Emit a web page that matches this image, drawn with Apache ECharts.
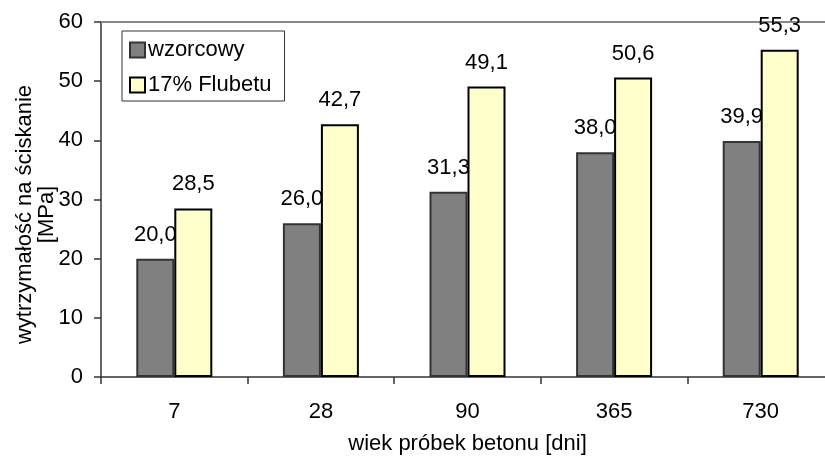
<!DOCTYPE html>
<html>
<head>
<meta charset="utf-8">
<script src="https://cdn.jsdelivr.net/npm/echarts@6/dist/echarts.min.js"></script>
<style>
  html, body { margin: 0; padding: 0; background: #fff; }
  #chart { width: 825px; height: 456px; }
</style>
</head>
<body>
<div id="chart"></div>
<script>
// Compressive strength of concrete samples by age
const categories = ['7', '28', '90', '365', '730'];
const wzorcowy = [20.0, 26.0, 31.3, 38.0, 39.9];
const flubet17 = [28.5, 42.7, 49.1, 50.6, 55.3];
const seriesNames = ['wzorcowy', '17% Flubetu'];

const FONT = "'Liberation Sans', Arial, Helvetica, sans-serif";
const FS = 22;
const fmt = v => v.toFixed(1).replace('.', ',');

const chart = echarts.init(document.getElementById('chart'), null, { renderer: 'canvas' });

const valueLabel = {
  show: true,
  position: 'top',
  distance: 13,
  fontFamily: FONT,
  fontSize: FS,
  color: '#000',
  formatter: p => fmt(p.value)
};

chart.setOption({
  animation: false,
  backgroundColor: '#ffffff',
  textStyle: { fontFamily: FONT, color: '#000' },
  // plot area runs slightly past the right edge of the canvas
  grid: { left: 101, top: 22, width: 733, bottom: 79, containLabel: false, outerBoundsMode: 'none' },
  legend: {
    orient: 'vertical',
    left: 122,
    top: 31,
    padding: [8, 13, 5, 7],
    itemWidth: 15,
    itemHeight: 15,
    itemGap: 13,
    borderColor: '#333',
    borderWidth: 1,
    backgroundColor: '#fff',
    icon: 'rect',
    textStyle: { fontFamily: FONT, fontSize: FS, lineHeight: 22, color: '#000', padding: [0, 0, 0, -2] },
    data: seriesNames
  },
  xAxis: [
    {
      type: 'category',
      data: categories,
      boundaryGap: true,
      name: 'wiek próbek betonu [dni]',
      nameLocation: 'middle',
      nameGap: 56,
      nameMoveOverlap: false,
      nameTextStyle: { fontFamily: FONT, fontSize: FS, color: '#000' },
      axisLine: { lineStyle: { color: '#333', width: 1.5 } },
      axisTick: { show: true, length: 7, alignWithLabel: false, lineStyle: { color: '#333', width: 1.5 } },
      axisLabel: { margin: 24, fontFamily: FONT, fontSize: FS, color: '#000' },
      splitLine: { show: false }
    },
    {
      // upper frame line of the plot area
      type: 'category',
      data: categories,
      position: 'top',
      axisLine: { show: true, lineStyle: { color: '#888', width: 2 } },
      axisTick: { show: false },
      axisLabel: { show: false },
      splitLine: { show: false }
    }
  ],
  yAxis: {
    type: 'value',
    min: 0,
    max: 60,
    interval: 10,
    name: 'wytrzymałość na ściskanie\n[MPa]',
    nameLocation: 'middle',
    nameGap: 43,
    nameMoveOverlap: false,
    nameTextStyle: { fontFamily: FONT, fontSize: FS, lineHeight: 22, color: '#000', align: 'center', padding: [0, 30, 0, 0] },
    axisLine: { show: true, lineStyle: { color: '#333', width: 1.5 } },
    axisTick: { show: true, length: 7, lineStyle: { color: '#333', width: 1.5 } },
    axisLabel: { margin: 18, fontFamily: FONT, fontSize: FS, color: '#000' },
    splitLine: { show: false }
  },
  series: [
    {
      name: seriesNames[0],
      type: 'bar',
      data: wzorcowy,
      barWidth: 38,
      barGap: '0%',
      z: 2,
      itemStyle: { color: '#808080', borderColor: '#333', borderWidth: 2 },
      label: valueLabel
    },
    {
      name: seriesNames[1],
      type: 'bar',
      data: flubet17,
      barWidth: 38,
      barGap: '0%',
      z: 3,
      itemStyle: { color: '#FFFFCC', borderColor: '#000', borderWidth: 2 },
      label: valueLabel
    }
  ]
});
</script>
</body>
</html>
